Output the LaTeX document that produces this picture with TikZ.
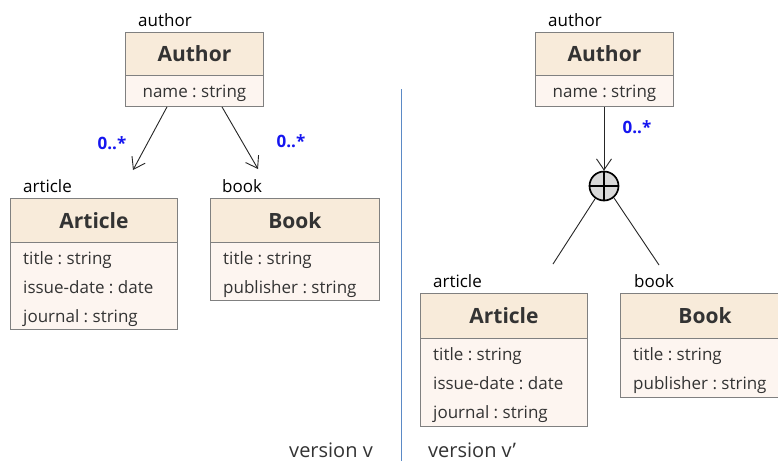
\documentclass[tikz,border=0pt]{standalone}
\usepackage{fontspec}
\setmainfont{Open Sans}
\frenchspacing
\usetikzlibrary{arrows.meta,calc}
\definecolor{hdrfill}{HTML}{F8EBDA}
\definecolor{bodyfill}{HTML}{FDF5F0}
\definecolor{boxline}{HTML}{808080}
\definecolor{txt}{HTML}{333333}
\definecolor{mult}{HTML}{1515F0}
\definecolor{sep}{HTML}{5B8AC6}
\tikzset{
  hdr/.style={draw=boxline, fill=hdrfill, line width=0.9pt, anchor=north west, inner sep=0pt,
    font=\fontsize{21}{24}\selectfont\bfseries, text=txt},
  bodybox/.style={draw=boxline, fill=bodyfill, line width=0.9pt, anchor=north west, inner sep=0pt},
  bodytext/.style={anchor=north west, inner sep=0pt, align=left, font=\fontsize{17}{29}\selectfont, text=txt},
  role/.style={anchor=south west, inner sep=0pt, font=\fontsize{17}{20}\selectfont, text=black},
  multlab/.style={font=\fontsize{17}{20}\selectfont\bfseries, text=mult, inner sep=0pt},
  assoc/.style={draw=black!85, line width=0.9pt, -{Straight Barb[length=11pt,width=15pt,line width=0.9pt]}},
  branch/.style={draw=black!85, line width=0.9pt},
  vlabel/.style={font=\fontsize{20}{24}\selectfont, text=txt, inner sep=0pt},
}
\begin{document}
\begin{tikzpicture}[x=1pt,y=-1pt]
\clip (0,0) rectangle (778,461);
\fill[white] (0,0) rectangle (778,461);

% ---------- left: version v ----------
\node[hdr, minimum width=138pt, minimum height=43pt] (a1h) at (125,32) {Author};
\node[bodybox, minimum width=138pt, minimum height=31pt] (a1b) at (125,75) {};
\node[bodytext, anchor=base] (a1t) at ($(a1b.north)+(0,22)$) {\strut name : string};
\node[role] (a1r) at ($(a1h.north west)+(13,-5)$) {author};

\node[hdr, minimum width=167pt, minimum height=44pt] (ar1h) at (10,198) {Article};
\node[bodybox, minimum width=167pt, minimum height=87pt] (ar1b) at (10,242) {};
\node[bodytext] (ar1t) at ($(ar1b.north west)+(13,2)$) {\strut title : string\\issue-date : date\\journal : string};
\node[role] (ar1r) at ($(ar1h.north west)+(13,-5)$) {article};

\node[hdr, minimum width=169pt, minimum height=44pt] (bk1h) at (210,198) {Book};
\node[bodybox, minimum width=169pt, minimum height=58pt] (bk1b) at (210,242) {};
\node[bodytext] (bk1t) at ($(bk1b.north west)+(13,2)$) {\strut title : string\\publisher : string};
\node[role] (bk1r) at ($(bk1h.north west)+(12,-5)$) {book};

\coordinate (e1) at (133,170);
\coordinate (e2) at (258,169);
\draw[assoc] ($(a1b.south west)+(42,0)$) -- (e1);
\draw[assoc] ($(a1b.south west)+(97,0)$) -- (e2);
\node[multlab] (m1) at (112,143) {0..*};
\node[multlab] (m2) at (291,141) {0..*};

% separator
\coordinate (s1) at (401,89);
\coordinate (s2) at (401,461);
\draw[sep, line width=1pt] (s1) -- (s2);

\node[vlabel, anchor=base east] (v1) at (373,457) {version v};
\node[vlabel, anchor=base west] (v2) at (428,457) {version v\char"0027};

% ---------- right: version v' ----------
\node[hdr, minimum width=138pt, minimum height=43pt] (a2h) at (535,32) {Author};
\node[bodybox, minimum width=138pt, minimum height=31pt] (a2b) at (535,75) {};
\node[bodytext, anchor=base] (a2t) at ($(a2b.north)+(0,22)$) {\strut name : string};
\node[role] (a2r) at ($(a2h.north west)+(13,-5)$) {author};

\node[circle, draw=black, fill=black!15, line width=1.7pt, minimum size=29pt, inner sep=0pt] (xor) at (604,186) {};
\draw[black, line width=1.7pt] (xor.north) -- (xor.south) (xor.west) -- (xor.east);
\draw[assoc] (a2b.south -| xor) -- (xor.north);
\node[multlab] (m3) at (637,127) {0..*};

\node[hdr, minimum width=167pt, minimum height=45pt] (ar2h) at (420,293) {Article};
\node[bodybox, minimum width=167pt, minimum height=88pt] (ar2b) at (420,338) {};
\node[bodytext] (ar2t) at ($(ar2b.north west)+(13,2)$) {\strut title : string\\issue-date : date\\journal : string};
\node[role] (ar2r) at ($(ar2h.north west)+(13,-5)$) {article};

\node[hdr, minimum width=169pt, minimum height=45pt] (bk2h) at (620,293) {Book};
\node[bodybox, minimum width=169pt, minimum height=59pt] (bk2b) at (620,338) {};
\node[bodytext] (bk2t) at ($(bk2b.north west)+(13,2)$) {\strut title : string\\publisher : string};
\node[role] (bk2r) at ($(bk2h.north west)+(14,-5)$) {book};

\coordinate (b1) at (553,264);
\coordinate (b2) at (659,265);
\draw[branch] (xor.-125) -- (b1);
\draw[branch] (xor.-50) -- (b2);
\end{tikzpicture}
\end{document}
